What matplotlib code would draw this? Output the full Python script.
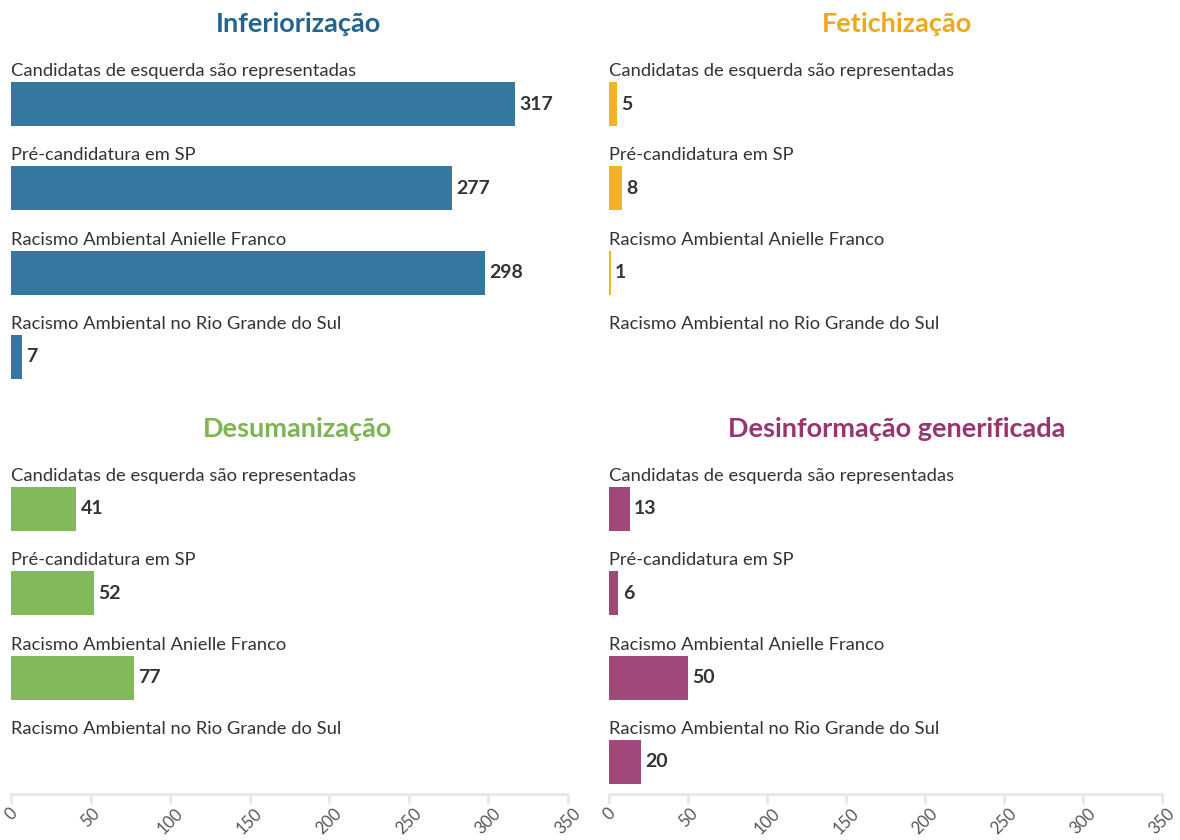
import matplotlib
matplotlib.use("Agg")
import matplotlib.pyplot as plt
import numpy as np

plt.rcParams['font.family'] = ['Lato', 'DejaVu Sans']

# ================================================================
# DONNÉES
# ================================================================
CATEGORIES = [
    "Candidatas de esquerda são representadas",
    "Pré-candidatura em SP",
    "Racismo Ambiental Anielle Franco",
    "Racismo Ambiental no Rio Grande do Sul",
]
TITRES = ["Inferiorização", "Fetichização", "Desumanização", "Desinformação generificada"]
INFERIORIZACAO = [317, 277, 298, 7]
FETICHIZACAO = [5, 8, 1, None]
DESUMANIZACAO = [41, 52, 77, None]
DESINFORMACAO = [13, 6, 50, 20]
TICKS = [0, 50, 100, 150, 200, 250, 300, 350]

COULEURS_BARRES = ["#34779f", "#f0b323", "#82b95a", "#a0487a"]
COULEURS_TITRES = ["#22668f", "#eea81c", "#7cb552", "#9a3470"]

# ================================================================
# FIGURE
# ================================================================
W, H = 1180, 840
fig = plt.figure(figsize=(W / 100, H / 100), dpi=100)

def px_axes(x0, x1, y0, y1):
    return fig.add_axes([x0 / W, 1 - y1 / H, (x1 - x0) / W, (y1 - y0) / H])

UNIT = 84.3
YLIM = (3.38, -0.75)
panneaux = [
    (11, 568, 104, 24, 298),
    (609, 1162, 104, 24, 897),
    (11, 568, 509, 429, 298),
    (609, 1162, 509, 429, 897),
]
series = [INFERIORIZACAO, FETICHIZACAO, DESUMANIZACAO, DESINFORMACAO]

for k, (x0, x1, yc, yt, xt) in enumerate(panneaux):
    top = yc + YLIM[1] * UNIT
    bot = yc + YLIM[0] * UNIT
    ax = px_axes(x0, x1, top, bot)
    vals = series[k]
    pos = np.arange(len(CATEGORIES))
    for i, v in enumerate(vals):
        ax.text(0, i - 0.39, CATEGORIES[i], ha='left', va='center',
                fontsize=13.2, color='#333333')
        if v is None:
            continue
        ax.barh(pos[i], v, height=0.52, color=COULEURS_BARRES[k], edgecolor='none')
        ax.annotate(str(v), (v, pos[i]), xytext=(3, 0), textcoords='offset points',
                    ha='left', va='center', fontsize=14, fontweight='bold', color='#333333')
    ax.set_xlim(0, 350)
    ax.set_ylim(*YLIM)
    ax.set_yticks([])
    for s in ['top', 'right', 'left']:
        ax.spines[s].set_visible(False)
    if k < 2:
        ax.spines['bottom'].set_visible(False)
        ax.set_xticks([])
    else:
        ax.spines['bottom'].set_color('#e8e8e8')
        ax.spines['bottom'].set_linewidth(2)
        ax.set_xticks(TICKS)
        ax.set_xticklabels([str(t) for t in TICKS], rotation=45, ha='center', va='top')
        ax.tick_params(axis='x', length=7, width=2, color='#e8e8e8', labelcolor='#555555',
                       labelsize=12, pad=1)
    ax.patch.set_visible(False)
    fig.text(xt / W, 1 - yt / H, TITRES[k], ha='center', va='center',
             fontsize=19.5, fontweight='bold', color=COULEURS_TITRES[k])

fig.savefig("out.png", dpi=100)
